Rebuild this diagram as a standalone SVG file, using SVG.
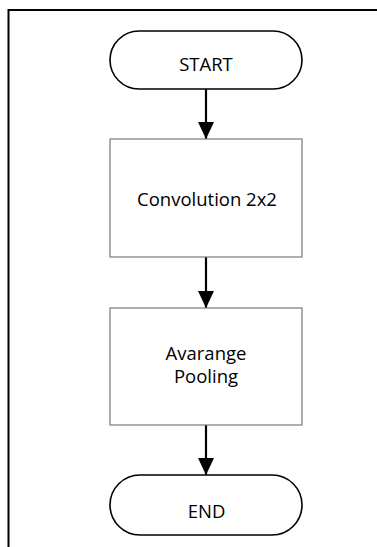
<svg xmlns="http://www.w3.org/2000/svg" width="377" height="547" viewBox="0 0 377 547">
<style>
.term{fill:#fff;stroke:#000;stroke-width:1.6}
.proc{fill:#fff;stroke:#7a7a7a;stroke-width:1.2}
.lbl{font-family:"Open Sans","Liberation Sans",sans-serif;font-size:18.5px;fill:#000;text-anchor:middle}
.conn{stroke:#000;stroke-width:2.2;fill:none}
</style>
<defs>
<marker id="ah" markerUnits="userSpaceOnUse" markerWidth="18" markerHeight="16" refX="17" refY="8" orient="auto">
<path d="M0,0 L17,8 L0,16 Z" fill="#000"/>
</marker>
</defs>
<g id="frame">
<path d="M8.5,547 L8.5,10 L377,10" fill="none" stroke="#000" stroke-width="2"/>
</g>
<g id="connectors">
<line class="conn" x1="206" y1="89" x2="206" y2="139" marker-end="url(#ah)"/>
<line class="conn" x1="206" y1="257" x2="206" y2="308" marker-end="url(#ah)"/>
<line class="conn" x1="206" y1="425" x2="206" y2="475" marker-end="url(#ah)"/>
</g>
<g id="start">
<rect class="term" x="110" y="31" width="192" height="58" rx="29" ry="29"/>
<text class="lbl" x="206" y="71">START</text>
</g>
<g id="convolution">
<rect class="proc" x="110" y="139" width="192" height="118"/>
<text class="lbl" x="207" y="206">Convolution 2x2</text>
</g>
<g id="pooling">
<rect class="proc" x="110" y="308" width="192" height="117"/>
<text class="lbl" x="206" y="360">Avarange</text>
<text class="lbl" x="206" y="383">Pooling</text>
</g>
<g id="end">
<rect class="term" x="110" y="475" width="192" height="60" rx="30" ry="30"/>
<text class="lbl" x="206.5" y="518">END</text>
</g>
</svg>
